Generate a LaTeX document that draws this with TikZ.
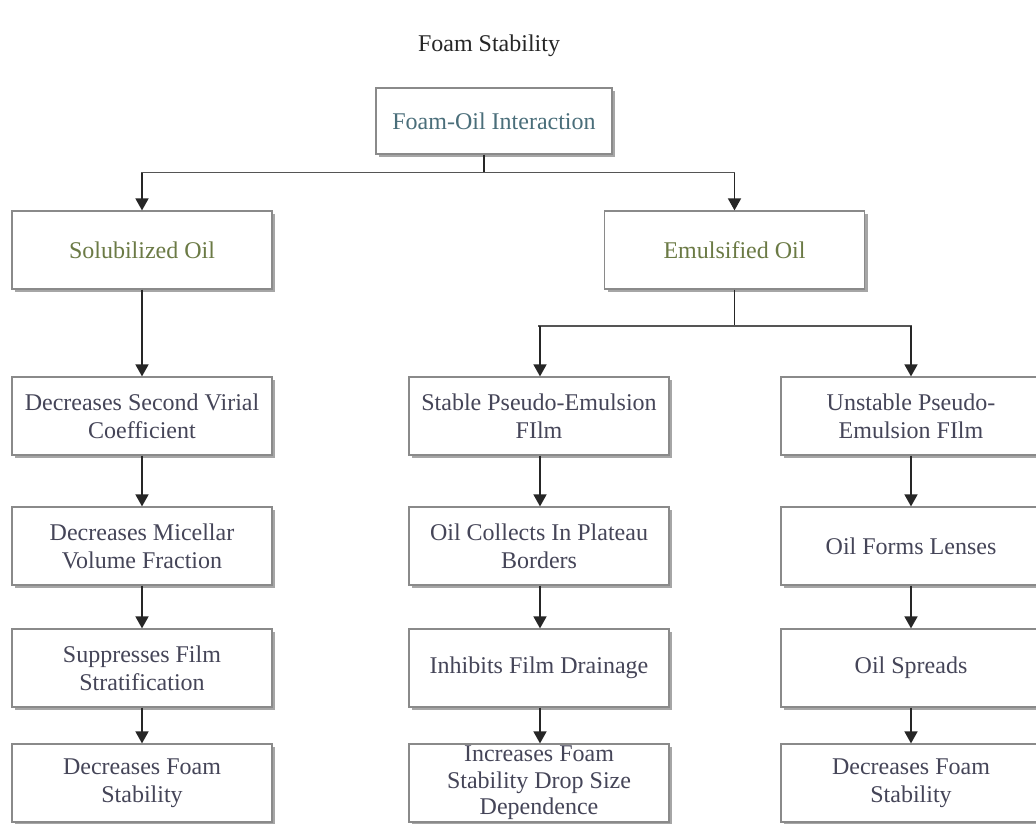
\documentclass[tikz,border=0pt]{standalone}
\usepackage{fontspec}
\setmainfont{Liberation Serif}
\usetikzlibrary{arrows.meta,shadows}
\definecolor{boxline}{HTML}{8A8A8A}
\definecolor{txtdark}{HTML}{454558}
\definecolor{txtteal}{HTML}{4A6E7A}
\definecolor{txtolive}{HTML}{6B7A45}
\definecolor{linegray}{HTML}{555555}
\tikzset{
  box/.style={draw=boxline, line width=1.2pt, fill=white, minimum width=260pt, minimum height=78pt,
    align=center, inner sep=2pt, text=txtdark, font=\fontsize{24}{28}\selectfont,
    drop shadow={shadow xshift=3pt, shadow yshift=-3pt, fill=black, opacity=0.35}},
  arr/.style={draw=black!85, line width=1.6pt, -{Triangle[width=13pt,length=12pt]}},
  ln/.style={draw=linegray, line width=1.6pt}
}
\begin{document}
\begin{tikzpicture}[x=1pt,y=-1pt]
\useasboundingbox (0,0) rectangle (1036,824);
\clip (0,0) rectangle (1036,824);
\fill[white] (0,0) rectangle (1036,824);
\node[font=\fontsize{24}{28}\selectfont, text=black!85] (title) at (489,46) {Foam Stability};
\node[box, minimum width=236pt, minimum height=66pt, text=txtteal] (top) at (494,121) {Foam-Oil Interaction};
\node[box, text=txtolive] (sol) at (142,250) {Solubilized Oil};
\node[box, text=txtolive] (emu) at (734.5,250) {Emulsified Oil};
% left column
\node[box] (l1) at (142,416) {Decreases Second Virial\\Coefficient};
\node[box] (l2) at (142,546) {Decreases Micellar\\Volume Fraction};
\node[box] (l3) at (142,668) {Suppresses Film\\Stratification};
\node[box] (l4) at (142,783) {Decreases Foam\\Stability};
% middle column
\node[box] (m1) at (539,416) {Stable Pseudo-Emulsion\\FIlm};
\node[box] (m2) at (539,546) {Oil Collects In Plateau\\Borders};
\node[box] (m3) at (539,668) {Inhibits Film Drainage};
\node[box, font=\fontsize{24}{26.5}\selectfont] (m4) at (539,783) {Increases Foam\\Stability Drop Size\\Dependence};
% right column
\node[box] (r1) at (911,416) {Unstable Pseudo-\\Emulsion FIlm};
\node[box] (r2) at (911,546) {Oil Forms Lenses};
\node[box] (r3) at (911,668) {Oil Spreads};
\node[box] (r4) at (911,783) {Decreases Foam\\Stability};
% connectors
\coordinate (j1) at (484,172.5);
\coordinate (j2) at (734.5,326);
\draw[draw=black!85, line width=1.6pt] (top.south -| j1) -- (j1);
\draw[ln] ([xshift=-0.8pt]sol.north |- j1) -- ([xshift=0.8pt]emu.north |- j1);
\draw[arr] (sol.north |- j1) -- (sol.north);
\draw[arr] (emu.north |- j1) -- (emu.north);
\draw[draw=black!85, line width=1.6pt] (emu.south) -- (j2);
\draw[ln] ([xshift=-0.8pt]m1.north |- j2) -- ([xshift=0.8pt]r1.north |- j2);
\draw[arr] ([xshift=1pt]m1.north |- j2) -- ([xshift=1pt]m1.north);
\draw[arr] (r1.north |- j2) -- (r1.north);
\draw[arr] (sol.south) -- (l1.north);
\draw[arr] (l1.south) -- (l2.north);
\draw[arr] (l2.south) -- (l3.north);
\draw[arr] (l3.south) -- (l4.north);
\draw[arr] ([xshift=1pt]m1.south) -- ([xshift=1pt]m2.north);
\draw[arr] ([xshift=1pt]m2.south) -- ([xshift=1pt]m3.north);
\draw[arr] ([xshift=1pt]m3.south) -- ([xshift=1pt]m4.north);
\draw[arr] (r1.south) -- (r2.north);
\draw[arr] (r2.south) -- (r3.north);
\draw[arr] (r3.south) -- (r4.north);
\end{tikzpicture}
\end{document}
